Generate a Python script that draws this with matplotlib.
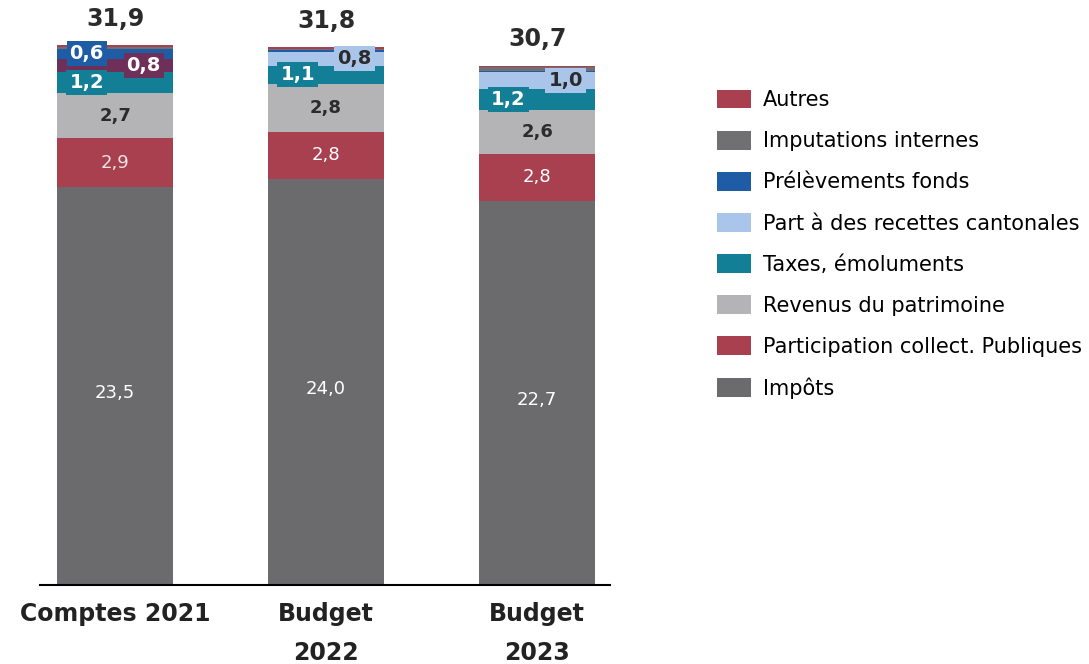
import numpy as np
import matplotlib.pyplot as plt
from matplotlib.patches import Patch

# data (millions)
years = ["Comptes 2021", "Budget\n2022", "Budget\n2023"]
series = ["Impôts", "Participation collect. Publiques", "Revenus du patrimoine",
          "Taxes, émoluments", "Part à des recettes cantonales",
          "Prélèvements fonds", "Imputations internes", "Autres"]
impots = [23.5, 24.0, 22.7]
participation = [2.9, 2.8, 2.8]
revenus = [2.7, 2.8, 2.6]
taxes = [1.2, 1.1, 1.2]
part_cant = [0.8, 0.8, 1.0]
prelev = [0.6, 0.1, 0.1]
imputations = [0.1, 0.1, 0.2]
autres = [0.1, 0.1, 0.1]
totals = [31.9, 31.8, 30.7]

values = [impots, participation, revenus, taxes, part_cant, prelev, imputations, autres]
colors = ["#6b6b6e", "#a8404f", "#b4b4b7", "#127f96", "#aac5ea", "#1f5ca6", "#707073", "#a8404f"]
# in the 2021 column the "part" segment is printed in purple
bar_colors = [[c] * 3 for c in colors]
bar_colors[4][0] = "#6e2f58"

fig = plt.figure(figsize=(10.89, 6.64), dpi=100)
ax = fig.add_axes([0.037, 0.119, 0.523, 0.851])

x = np.arange(len(years))
w = 0.55
bottom = np.zeros(3)
for i, vals in enumerate(values):
    ax.bar(x, vals, w, bottom=bottom, color=bar_colors[i], edgecolor="none")
    bottom += np.array(vals)

def seg_center(k, j):
    return sum(values[m][j] for m in range(k)) + values[k][j] / 2

fmt = lambda v: f"{v:.1f}".replace(".", ",")

# big segments
for j in range(3):
    ax.text(x[j], seg_center(0, j) - 0.4, fmt(impots[j]), ha="center", va="center",
            color="white", fontsize=13)
    ax.text(x[j], seg_center(1, j), fmt(participation[j]), ha="center", va="center",
            color="#f3e3e6" if j == 0 else "white", fontsize=13)
    ax.text(x[j], seg_center(2, j), fmt(revenus[j]), ha="center", va="center",
            color="#2b2b2b", fontsize=13, fontweight="bold")
    ax.text(x[j], totals[j] + 0.85, fmt(totals[j]), ha="center", va="bottom",
            color="#2b2b2b", fontsize=17, fontweight="bold")

# small segments with boxed labels
off = 0.135
box = lambda c: dict(boxstyle="square,pad=0.15", fc=c, ec="none")
for j in range(3):
    ax.text(x[j] - off, seg_center(3, j), fmt(taxes[j]), ha="center", va="center",
            color="white", fontsize=14, fontweight="bold", bbox=box(colors[3]))
    c = bar_colors[4][j]
    ax.text(x[j] + off, seg_center(4, j), fmt(part_cant[j]), ha="center", va="center",
            color="white" if j == 0 else "#2b2b2b", fontsize=14, fontweight="bold", bbox=box(c))
ax.text(x[0] - off, seg_center(5, 0), fmt(prelev[0]), ha="center", va="center",
        color="white", fontsize=14, fontweight="bold", bbox=box(colors[5]))

ax.set_xlim(-0.355, 2.345)
ax.set_ylim(0, 33.4)
for s in ["top", "right", "left"]:
    ax.spines[s].set_visible(False)
ax.spines["bottom"].set_linewidth(1.5)
ax.set_yticks([])
ax.set_xticks(x)
ax.set_xticklabels(years, fontsize=17, fontweight="bold", color="#222222", linespacing=1.8)
ax.tick_params(axis="x", length=0, pad=12)

handles = [Patch(facecolor=colors[i], label=series[i]) for i in range(len(series))][::-1]
fig.legend(handles=handles, loc="upper left", bbox_to_anchor=(0.641, 0.893),
           frameon=False, fontsize=15, handlelength=1.65, handleheight=1.0,
           labelspacing=0.99, handletextpad=0.55)

fig.savefig("out.png", dpi=100)
